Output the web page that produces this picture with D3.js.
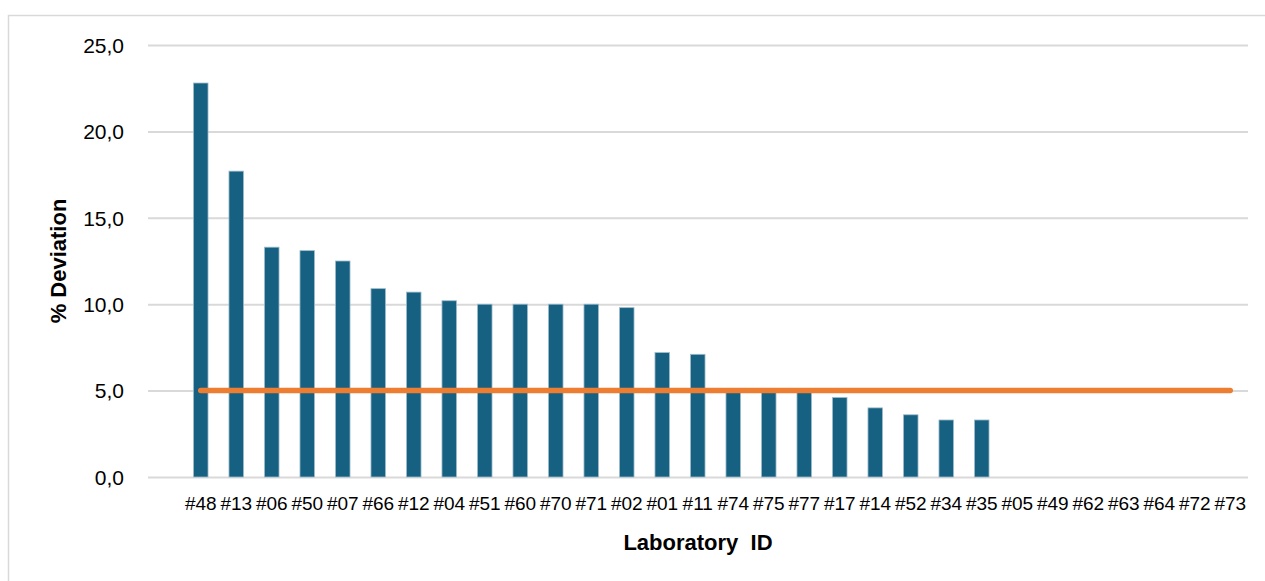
<!DOCTYPE html>
<html>
<head>
<meta charset="utf-8">
<script src="https://cdn.jsdelivr.net/npm/d3@7"></script>
<style>
  html, body { margin: 0; padding: 0; background: #ffffff; }
  svg { display: block; }
</style>
</head>
<body>
<svg id="chart" width="1265" height="581"></svg>
<script>
// Laboratory IDs, ordered by deviation
const labs = ["#48","#13","#06","#50","#07","#66","#12","#04","#51","#60","#70","#71","#02","#01","#11",
              "#74","#75","#77","#17","#14","#52","#34","#35","#05","#49","#62","#63","#64","#72","#73"];
// % deviation per laboratory
const deviation = [22.8,17.7,13.3,13.1,12.5,10.9,10.7,10.2,10.0,10.0,10.0,10.0,9.8,7.2,7.1,
                   5.0,5.0,5.0,4.6,4.0,3.6,3.3,3.3,0,0,0,0,0,0,0];
// acceptance limit (%)
const limitValue = 5.0;
// value axis ticks
const yTicks = [0, 5, 10, 15, 20, 25];

const svg = d3.select("#chart");
const W = 1265, H = 581;

// chart frame
svg.append("rect")
  .attr("x", 8.5).attr("y", 15.5)
  .attr("width", W + 20).attr("height", H + 20)
  .attr("fill", "#ffffff")
  .attr("stroke", "#d9d9d9").attr("stroke-width", 1.5);

const gridLeft = 148, plotRight = 1248;
const y = d3.scaleLinear().domain([0, 25]).range([477, 45]);
const x = d3.scaleBand().domain(labs).range([183, plotRight]).padding(0);
const barW = x.bandwidth() * 0.41;

// horizontal gridlines with value labels
const yAxis = d3.axisLeft(y)
  .tickValues(yTicks)
  .tickSize(plotRight - gridLeft)
  .tickFormat(d => d3.format(".1f")(d).replace(".", ","));

const gy = svg.append("g")
  .attr("transform", `translate(${plotRight},0)`)
  .call(yAxis);
gy.select(".domain").remove();
gy.selectAll(".tick line")
  .attr("stroke", "#d9d9d9").attr("stroke-width", 2);
gy.selectAll(".tick text")
  .attr("x", 124 - plotRight)
  .attr("dy", "0.35em")
  .attr("text-anchor", "end")
  .attr("fill", "#000000")
  .style("font-family", "'Liberation Sans', Arial, sans-serif")
  .style("font-size", "21px");

// bars
svg.append("g").selectAll("rect")
  .data(labs.map((l, i) => ({ lab: l, v: deviation[i] })).filter(d => d.v > 0))
  .join("rect")
  .attr("x", d => x(d.lab) + x.bandwidth() / 2 - barW / 2)
  .attr("y", d => y(d.v))
  .attr("width", barW)
  .attr("height", d => y(0) - y(d.v))
  .attr("fill", "#166082")
  .attr("stroke", "#9fbccb")
  .attr("stroke-width", 0.8);

// acceptance limit line
const cx = l => x(l) + x.bandwidth() / 2;
svg.append("line")
  .attr("x1", cx(labs[0])).attr("x2", cx(labs[labs.length - 1]))
  .attr("y1", y(limitValue)).attr("y2", y(limitValue))
  .attr("stroke", "#ed7d31")
  .attr("stroke-width", 5.5)
  .attr("stroke-linecap", "round");

// category labels
const xAxis = d3.axisBottom(x).tickSize(0);
const gx = svg.append("g")
  .attr("transform", `translate(0,${y(0)})`)
  .call(xAxis);
gx.select(".domain").remove();
gx.selectAll(".tick text")
  .attr("y", 33)
  .attr("dy", 0)
  .attr("fill", "#000000")
  .style("font-family", "'Liberation Sans', Arial, sans-serif")
  .style("font-size", "19px");

// axis titles
svg.append("text")
  .attr("x", (gridLeft + plotRight) / 2)
  .attr("y", 550)
  .attr("text-anchor", "middle")
  .style("white-space", "pre")
  .style("font-family", "'Liberation Sans', Arial, sans-serif")
  .style("font-weight", "bold")
  .style("font-size", "22px")
  .text("Laboratory  ID");

svg.append("text")
  .attr("transform", `translate(66,${(y(0) + y(25)) / 2}) rotate(-90)`)
  .attr("text-anchor", "middle")
  .style("font-family", "'Liberation Sans', Arial, sans-serif")
  .style("font-weight", "bold")
  .style("font-size", "22px")
  .text("% Deviation");
</script>
</body>
</html>
